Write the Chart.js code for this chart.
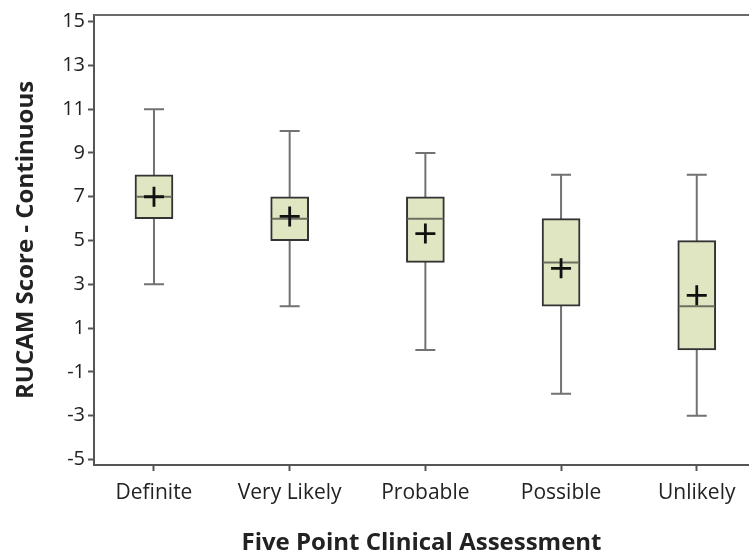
<!DOCTYPE html>
<html>
<head>
<meta charset="utf-8">
<script src="https://cdn.jsdelivr.net/npm/chart.js@4.4.0/dist/chart.umd.min.js"></script>
<style>
  html, body { margin: 0; padding: 0; background: #fff; }
  canvas { display: block; }
</style>
</head>
<body>
<canvas id="rucamChart" width="749" height="558"></canvas>
<script>
// Box plot values
const categories = ['Definite', 'Very Likely', 'Probable', 'Possible', 'Unlikely'];
const whiskerLow = [3, 2, 0, -2, -3];
const quartile1 = [6, 5, 4, 2, 0];
const medians = [7, 6, 6, 4, 2];
const quartile3 = [8, 7, 7, 6, 5];
const whiskerHigh = [11, 10, 9, 8, 8];
const means = [7, 6.1, 5.32, 3.73, 2.5];
const yTicks = [-5, -3, -1, 1, 3, 5, 7, 9, 11, 13, 15];

const FONT = "'Open Sans', 'Noto Sans', sans-serif";

/**
 * Draws whiskers, medians, mean crosses and the top frame line using the chart scales.
 */
const boxExtras = {
    id: 'boxExtras',
    beforeDatasetsDraw(chart) {
        const {ctx, scales: {x, y}} = chart;
        ctx.save();
        ctx.strokeStyle = '#727272';
        ctx.lineWidth = 2;
        categories.forEach((c, i) => {
            const px = x.getPixelForValue(i + 1);
            const top = y.getPixelForValue(whiskerHigh[i]);
            const bot = y.getPixelForValue(whiskerLow[i]);
            ctx.beginPath();
            ctx.moveTo(px, top);
            ctx.lineTo(px, bot);
            ctx.moveTo(px - 10, top);
            ctx.lineTo(px + 10, top);
            ctx.moveTo(px - 10, bot);
            ctx.lineTo(px + 10, bot);
            ctx.stroke();
        });
        ctx.restore();
    },
    afterDatasetsDraw(chart) {
        const {ctx, chartArea, scales: {x, y}} = chart;
        ctx.save();
        // top frame line
        ctx.strokeStyle = '#6a6a6a';
        ctx.lineWidth = 2;
        ctx.beginPath();
        ctx.moveTo(chartArea.left, chartArea.top);
        ctx.lineTo(chartArea.right, chartArea.top);
        ctx.stroke();

        categories.forEach((c, i) => {
            const px = x.getPixelForValue(i + 1);
            // median
            const my = y.getPixelForValue(medians[i]);
            ctx.strokeStyle = '#6b7060';
            ctx.lineWidth = 2;
            ctx.beginPath();
            ctx.moveTo(px - 18, my);
            ctx.lineTo(px + 18, my);
            ctx.stroke();
            // mean cross
            const ay = y.getPixelForValue(means[i]);
            ctx.strokeStyle = '#111';
            ctx.lineWidth = 2.8;
            ctx.beginPath();
            ctx.moveTo(px - 10, ay);
            ctx.lineTo(px + 10, ay);
            ctx.moveTo(px, ay - 10);
            ctx.lineTo(px, ay + 10);
            ctx.stroke();
        });
        ctx.restore();
    }
};

function createBoxChart() {
    const ctx = document.getElementById('rucamChart').getContext('2d');
    return new Chart(ctx, {
        type: 'bar',
        data: {
            datasets: [{
                label: 'Interquartile range',
                data: categories.map((c, i) => ({x: i + 1, y: [quartile1[i], quartile3[i]]})),
                backgroundColor: 'rgb(223, 230, 193)',
                borderColor: '#333',
                borderWidth: 2,
                borderSkipped: false,
                barThickness: 38
            }]
        },
        options: {
            responsive: false,
            animation: false,
            layout: { padding: { top: 11, right: 0, left: 0, bottom: 0 } },
            plugins: {
                legend: { display: false },
                tooltip: { enabled: false }
            },
            scales: {
                x: {
                    type: 'linear',
                    offset: false,
                    min: 0.558,
                    max: 5.385,
                    afterBuildTicks: s => { s.ticks = categories.map((c, i) => ({value: i + 1})); },
                    afterFit: s => { s.height = 93; },
                    ticks: {
                        callback: v => categories[v - 1],
                        color: '#222',
                        font: { family: FONT, size: 21 },
                        padding: 9,
                        maxRotation: 0,
                        autoSkip: false
                    },
                    grid: { offset: false, drawOnChartArea: false, drawTicks: true, tickLength: 6, tickColor: '#555', tickWidth: 2 },
                    border: { display: true, color: '#555', width: 2 },
                    title: {
                        display: true,
                        text: 'Five Point Clinical Assessment',
                        color: '#222',
                        font: { family: FONT, size: 24, weight: 'bold' },
                        padding: { top: 0, bottom: 0 }
                    }
                },
                y: {
                    min: -5.25,
                    max: 15.3,
                    afterBuildTicks: s => { s.ticks = yTicks.map(v => ({value: v})); },
                    afterFit: s => { s.width = 94; },
                    ticks: {
                        color: '#222',
                        font: { family: FONT, size: 20 },
                        padding: 3
                    },
                    grid: { drawOnChartArea: false, drawTicks: true, tickLength: 6, tickColor: '#555', tickWidth: 2 },
                    border: { display: true, color: '#555', width: 2 },
                    title: {
                        display: true,
                        text: 'RUCAM Score - Continuous',
                        color: '#222',
                        font: { family: FONT, size: 24, weight: 'bold' },
                        padding: { top: 12, bottom: 0 }
                    }
                }
            }
        },
        plugins: [boxExtras]
    });
}

window.onload = function() {
    window.rucamChart = createBoxChart();
};
</script>
</body>
</html>
